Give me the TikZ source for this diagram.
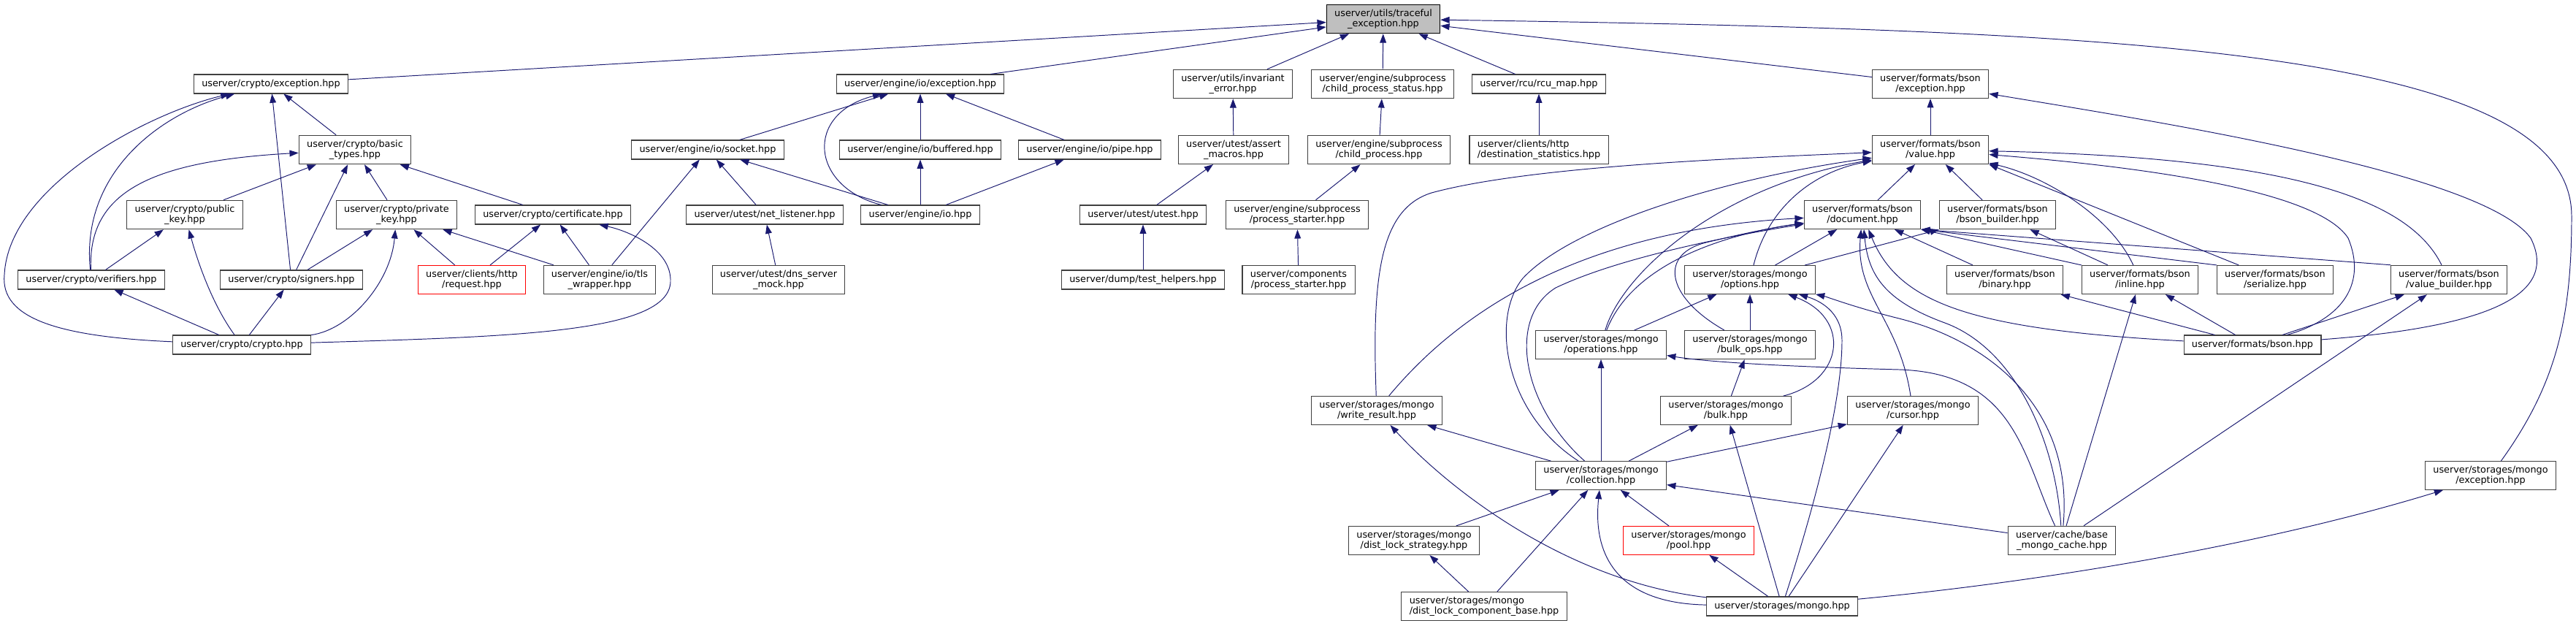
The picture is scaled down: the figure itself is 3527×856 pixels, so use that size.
\documentclass[tikz,border=0pt]{standalone}
\usepackage{fontspec}
\setmainfont{DejaVu Sans}
\usepackage{xcolor}
\usepackage{tikz}
\usetikzlibrary{arrows.meta, positioning}
\definecolor{edgeblue}{HTML}{191970}
\definecolor{boxline}{HTML}{404040}
\definecolor{rootgray}{HTML}{BFBFBF}

\begin{document}
\begin{tikzpicture}[x=0.02cm, y=0.02cm,
  file/.style={draw=boxline, fill=white, line width=0.6pt, inner xsep=6.2pt, inner ysep=3.6pt,
    minimum height=14.8pt, align=center, font=\fontsize{7.3}{8}\selectfont},
  rootfile/.style={file, fill=rootgray, draw=black},
  nodoc/.style={file, draw=red},
  inc/.style={draw=edgeblue, line width=0.55pt, -{Triangle[length=7pt, width=5pt]}}]
  \useasboundingbox (0,0) rectangle (3527,856);

  % the header itself
  \node[rootfile] (trc) at (1894,830) {userver/utils/traceful\\\_exception.hpp};

  % direct includers
  \node[file] (cexc) at (371,741) {userver/crypto/exception.hpp};
  \node[file] (ioexc) at (1260,741) {userver/engine/io/exception.hpp};
  \node[file] (inv) at (1688,741) {userver/utils/invariant\\\_error.hpp};
  \node[file] (cps) at (1893,741) {userver/engine/subprocess\\/child\_process\_status.hpp};
  \node[file] (rcu) at (2107,741) {userver/rcu/rcu\_map.hpp};
  \node[file] (bexc) at (2643,741) {userver/formats/bson\\/exception.hpp};

  \node[file] (basic) at (486,651) {userver/crypto/basic\\\_types.hpp};
  \node[file] (sock) at (969,651) {userver/engine/io/socket.hpp};
  \node[file] (buf) at (1260,651) {userver/engine/io/buffered.hpp};
  \node[file] (pipe) at (1492,651) {userver/engine/io/pipe.hpp};
  \node[file] (amac) at (1689,651) {userver/utest/assert\\\_macros.hpp};
  \node[file] (cp) at (1888,651) {userver/engine/subprocess\\/child\_process.hpp};
  \node[file, align=left] (dst) at (2107,651) {userver/clients/http\\/destination\_statistics.hpp};
  \node[file] (val) at (2643,651) {userver/formats/bson\\/value.hpp};

  \node[file] (pub) at (253,562) {userver/crypto/public\\\_key.hpp};
  \node[file] (priv) at (543,562) {userver/crypto/private\\\_key.hpp};
  \node[file] (cert) at (757,562) {userver/crypto/certificate.hpp};
  \node[file] (netl) at (1047,562) {userver/utest/net\_listener.hpp};
  \node[file] (io) at (1260,562) {userver/engine/io.hpp};
  \node[file] (utest) at (1565,562) {userver/utest/utest.hpp};
  \node[file] (pst) at (1776,562) {userver/engine/subprocess\\/process\_starter.hpp};
  \node[file] (doc) at (2550,562) {userver/formats/bson\\/document.hpp};
  \node[file] (bbld) at (2735,562) {userver/formats/bson\\/bson\_builder.hpp};

  \node[file] (ver) at (125,473) {userver/crypto/verifiers.hpp};
  \node[file] (sig) at (399,473) {userver/crypto/signers.hpp};
  \node[nodoc] (req) at (646,473) {userver/clients/http\\/request.hpp};
  \node[file] (tls) at (821,473) {userver/engine/io/tls\\\_wrapper.hpp};
  \node[file] (dns) at (1066,473) {userver/utest/dns\_server\\\_mock.hpp};
  \node[file] (thlp) at (1565,473) {userver/dump/test\_helpers.hpp};
  \node[file] (cpst) at (1778,473) {userver/components\\/process\_starter.hpp};
  \node[file] (opt) at (2396,473) {userver/storages/mongo\\/options.hpp};
  \node[file] (bin) at (2745,473) {userver/formats/bson\\/binary.hpp};
  \node[file] (inl) at (2930,473) {userver/formats/bson\\/inline.hpp};
  \node[file] (ser) at (3115,473) {userver/formats/bson\\/serialize.hpp};
  \node[file] (vbld) at (3353,473) {userver/formats/bson\\/value\_builder.hpp};

  \node[file] (cry) at (331,384) {userver/crypto/crypto.hpp};
  \node[file] (ops) at (2192,384) {userver/storages/mongo\\/operations.hpp};
  \node[file] (bops) at (2396,384) {userver/storages/mongo\\/bulk\_ops.hpp};
  \node[file] (bson) at (3084,384) {userver/formats/bson.hpp};

  \node[file] (wres) at (1885,294) {userver/storages/mongo\\/write\_result.hpp};
  \node[file] (bulk) at (2363,294) {userver/storages/mongo\\/bulk.hpp};
  \node[file] (cur) at (2619,294) {userver/storages/mongo\\/cursor.hpp};

  \node[file] (coll) at (2192,205) {userver/storages/mongo\\/collection.hpp};
  \node[file] (mexc) at (3410,205) {userver/storages/mongo\\/exception.hpp};

  \node[file] (dls) at (1936,116) {userver/storages/mongo\\/dist\_lock\_strategy.hpp};
  \node[nodoc] (pool) at (2312,116) {userver/storages/mongo\\/pool.hpp};
  \node[file] (bmc) at (2823,116) {userver/cache/base\\\_mongo\_cache.hpp};

  \node[file, align=left] (dlcb) at (2032,26) {userver/storages/mongo\\/dist\_lock\_component\_base.hpp};
  \node[file] (mongo) at (2440,26) {userver/storages/mongo.hpp};

  % crypto
  \draw[inc] (cexc) -- (trc);
  \draw[inc] (basic) -- (cexc);
  \draw[inc] (sig) -- (cexc);
  \draw[inc] (ver) .. controls (110,620) and (220,700) .. (cexc);
  \draw[inc] (cry) .. controls (80,395) and (0,420) .. (6,480) .. controls (12,600) and (200,700) .. (cexc);
  \draw[inc] (ver) .. controls (120,590) and (200,635) .. (basic);
  \draw[inc] (pub) -- (basic);
  \draw[inc] (sig) -- (basic);
  \draw[inc] (priv) -- (basic);
  \draw[inc] (cert) -- (basic);
  \draw[inc] (ver) -- (pub);
  \draw[inc] (cry) .. controls (290,440) and (270,500) .. (pub);
  \draw[inc] (sig) -- (priv);
  \draw[inc] (cry) .. controls (480,405) and (535,470) .. (priv);
  \draw[inc] (req) -- (priv);
  \draw[inc] (tls) -- (priv);
  \draw[inc] (req) -- (cert);
  \draw[inc] (tls) -- (cert);
  \draw[inc] (cry) .. controls (700,395) and (915,400) .. (918,470) .. controls (920,515) and (860,540) .. (cert);
  \draw[inc] (cry) -- (ver);
  \draw[inc] (cry) -- (sig);

  % engine io
  \draw[inc] (ioexc) -- (trc);
  \draw[inc] (sock) -- (ioexc);
  \draw[inc] (buf) -- (ioexc);
  \draw[inc] (pipe) -- (ioexc);
  \draw[inc] (io) .. controls (1110,600) and (1100,700) .. (ioexc);
  \draw[inc] (tls) -- (sock);
  \draw[inc] (netl) -- (sock);
  \draw[inc] (io) -- (sock);
  \draw[inc] (io) -- (buf);
  \draw[inc] (io) -- (pipe);
  \draw[inc] (dns) -- (netl);

  % utest, subprocess, rcu
  \draw[inc] (inv) -- (trc);
  \draw[inc] (amac) -- (inv);
  \draw[inc] (utest) -- (amac);
  \draw[inc] (thlp) -- (utest);
  \draw[inc] (cps) -- (trc);
  \draw[inc] (cp) -- (cps);
  \draw[inc] (pst) -- (cp);
  \draw[inc] (cpst) -- (pst);
  \draw[inc] (rcu) -- (trc);
  \draw[inc] (dst) -- (rcu);

  % formats bson
  \draw[inc] (bexc) -- (trc);
  \draw[inc] (val) -- (bexc);
  \draw[inc] (bson) .. controls (3430,410) and (3500,460) .. (3465,530) .. controls (3400,620) and (2950,690) .. (bexc);
  \draw[inc] (doc) -- (val);
  \draw[inc] (bbld) -- (val);
  \draw[inc] (inl) .. controls (2890,560) and (2800,615) .. (val);
  \draw[inc] (ser) -- (val.south east);
  \draw[inc] (vbld) .. controls (3300,580) and (3150,640) .. (val);
  \draw[inc] (bson) .. controls (3210,420) and (3240,470) .. (3215,530) .. controls (3170,600) and (2900,630) .. (val);
  \draw[inc] (bin) -- (doc);
  \draw[inc] (inl.north west) -- (doc.south east);
  \draw[inc] (ser.north west) -- (doc.south east);
  \draw[inc] (vbld.north west) -- (doc.south east);
  \draw[inc] (inl) -- (bbld);
  \draw[inc] (bson) -- (bin);
  \draw[inc] (bson) -- (inl);
  \draw[inc] (bson) -- (vbld);
  \draw[inc] (bson) .. controls (2700,405) and (2600,440) .. (doc);

  % storages mongo
  \draw[inc] (mexc) .. controls (3500,330) and (3521,420) .. (3521,560) .. controls (3521,790) and (2900,815) .. (trc);
  \draw[inc] (wres) .. controls (1878,480) and (1890,570) .. (1960,592) .. controls (2100,630) and (2400,640) .. (val);
  \draw[inc] (wres) .. controls (1990,420) and (2150,540) .. (doc);
  \draw[inc] (coll) .. controls (2060,290) and (2040,420) .. (2085,475) .. controls (2150,545) and (2350,610) .. (val);
  \draw[inc] (coll) .. controls (2085,300) and (2062,420) .. (2130,462) .. controls (2220,505) and (2380,535) .. (doc);
  \draw[inc] (ops) .. controls (2220,480) and (2350,600) .. (val);
  \draw[inc] (ops) .. controls (2235,495) and (2360,535) .. (doc);
  \draw[inc] (ops) -- (opt);
  \draw[inc] (opt) .. controls (2420,570) and (2480,620) .. (val);
  \draw[inc] (opt) -- (doc);
  \draw[inc] (opt) -- (bbld.south west);
  \draw[inc] (bops) .. controls (2280,450) and (2270,510) .. (2340,525) .. controls (2390,537) and (2430,545) .. (doc);
  \draw[inc] (bops) -- (opt);
  \draw[inc] (bulk) -- (bops);
  \draw[inc] (bulk) .. controls (2525,335) and (2535,420) .. (opt);
  \draw[inc] (cur) .. controls (2600,420) and (2540,450) .. (doc);
  \draw[inc] (coll) -- (wres);
  \draw[inc] (coll) -- (ops);
  \draw[inc] (coll) -- (bulk);
  \draw[inc] (coll) -- (cur);
  \draw[inc] (dls) -- (coll);
  \draw[inc] (dlcb) -- (coll);
  \draw[inc] (dlcb) -- (dls);
  \draw[inc] (pool) -- (coll);
  \draw[inc] (mongo) .. controls (2150,60) and (1990,180) .. (wres);
  \draw[inc] (mongo) .. controls (2220,30) and (2180,90) .. (coll);
  \draw[inc] (mongo) -- (pool);
  \draw[inc] (mongo) -- (bulk);
  \draw[inc] (mongo) -- (cur);
  \draw[inc] (mongo) .. controls (2480,150) and (2522,300) .. (2522,390) .. controls (2522,430) and (2490,445) .. (opt);
  \draw[inc] (mongo) .. controls (2800,60) and (3100,110) .. (mexc);
  \draw[inc] (bmc) -- (coll);
  \draw[inc] (bmc) .. controls (2770,230) and (2760,345) .. (2600,350) .. controls (2450,354) and (2340,360) .. (ops);
  \draw[inc] (bmc) .. controls (2840,300) and (2720,390) .. (2600,420) .. controls (2540,435) and (2500,450) .. (opt);
  \draw[inc] (bmc) .. controls (2815,250) and (2760,380) .. (2660,415) .. controls (2580,445) and (2558,480) .. (doc);
  \draw[inc] (bmc) -- (inl);
  \draw[inc] (bmc) -- (vbld);
\end{tikzpicture}
\end{document}
